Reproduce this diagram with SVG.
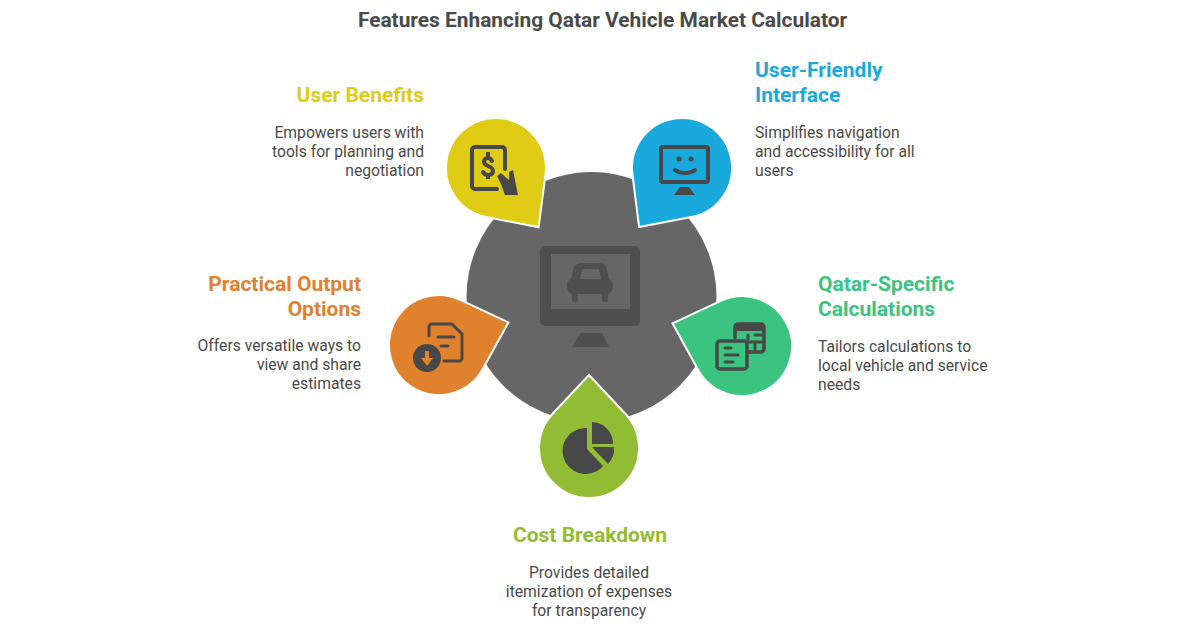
<svg xmlns="http://www.w3.org/2000/svg" width="1200" height="628" viewBox="0 0 1200 628">
<style>
text{font-family:Roboto,"Liberation Sans",sans-serif}
.title{font-size:20.900px;font-weight:700;fill:#4a4a4a;text-anchor:middle}
.h{font-size:21px;font-weight:700}
.d{font-size:15.700px;fill:#4a4a4a}
.s{fill:none;stroke:#484848;stroke-width:4;stroke-linecap:round;stroke-linejoin:round}
.f{fill:#484848}
.drop{stroke:#fff;stroke-width:2}
</style>
<defs><path id="drop" d="M0,-73 L36.400,-34.200 A50 50 0 1 1 -36.400,-34.200 Z"/></defs>
<rect width="1200" height="628" fill="#fff"/>
<text class="title" x="602.500" y="27">Features Enhancing Qatar Vehicle Market Calculator</text>
<g id="center">
<circle cx="591.500" cy="297" r="125" fill="#666"/>
<path fill="#4f4f4f" fill-rule="evenodd" d="M545,246H635a5,5 0 0 1 5,5V321a5,5 0 0 1-5,5H545a5,5 0 0 1-5-5V251a5,5 0 0 1 5-5ZM551,254V309H630V254Z"/>
<path fill="#4f4f4f" d="M581,333H602L609,347H572Z"/>
<path fill="#4f4f4f" fill-rule="evenodd" d="M581,263H600C604,263 606,266 607,270L609,279C612,280 613,283 613,286C613,290 611,293 608,294V300C608,303 602,303 602,300V294H578V300C578,303 572,303 572,300V294C569,293 567,290 567,286C567,283 568,280 571,279L573,270C574,266 577,263 581,263ZM582,269L580,279H601L599,269Z"/>
</g>
<g id="user-benefits">
<use href="#drop" class="drop" fill="#E0CB15" transform="translate(496 168) rotate(144.300)"/>
<path class="s" d="M497,189H475a3,3 0 0 1-3-3V150a3,3 0 0 1 3-3H502a3,3 0 0 1 3,3V169"/>
<path class="s" style="stroke-width:4" d="M492,161C490,157 484,157 484,162C484,167 493,165 493,171C493,176 485,176 483,172"/>
<path class="f" d="M486,152H490V157H486ZM486,175H490V179H486Z"/>
<path class="f" d="M497,176L501,173L509,180V172L513,170L518,195H505L501,184Z"/>
<text class="h" x="424" y="102" text-anchor="end" fill="#E0CB15">User Benefits</text>
<text class="d" text-anchor="end"><tspan x="424" y="138">Empowers users with</tspan><tspan x="424" y="157">tools for planning and</tspan><tspan x="424" y="176">negotiation</tspan></text>
</g>
<g id="user-friendly-interface">
<use href="#drop" class="drop" fill="#1AA9DD" transform="translate(682 168) rotate(-144)"/>
<rect class="s" x="661" y="147" width="47" height="35" rx="2"/>
<circle class="f" cx="679" cy="159" r="2.500"/><circle class="f" cx="691" cy="159" r="2.500"/>
<path class="s" d="M675,170C680,174 690,174 695,170"/>
<path class="f" d="M680,187H689L695,195H674Z"/>
<text class="h" fill="#1AA9DD"><tspan x="755" y="77">User-Friendly</tspan><tspan x="755" y="102">Interface</tspan></text>
<text class="d"><tspan x="755" y="138">Simplifies navigation</tspan><tspan x="755" y="157">and accessibility for all</tspan><tspan x="755" y="176">users</tspan></text>
</g>
<g id="practical-output-options">
<use href="#drop" class="drop" fill="#E0812E" transform="translate(439 345) rotate(72)"/>
<path class="s" style="stroke-width:3" d="M429,336V327a3,3 0 0 1 3-3H452L462,334V358a3,3 0 0 1-3,3H444"/>
<path class="s" style="stroke-width:3" d="M438,337H454M441,346H448"/>
<circle class="f" cx="427" cy="358" r="14"/>
<path fill="#E0812E" d="M425,351H429V358H433L427,366L421,358H425Z"/>
<text class="h" fill="#E0812E" text-anchor="end"><tspan x="361" y="291">Practical Output</tspan><tspan x="361" y="316">Options</tspan></text>
<text class="d" text-anchor="end"><tspan x="361" y="351">Offers versatile ways to</tspan><tspan x="361" y="370">view and share</tspan><tspan x="361" y="389">estimates</tspan></text>
</g>
<g id="qatar-specific-calculations">
<use href="#drop" class="drop" fill="#3BC47F" transform="translate(742 346) rotate(-72)"/>
<path class="s" style="stroke-width:3.500" d="M735,338V327a3,3 0 0 1 3-3H761a3,3 0 0 1 3,3V349a3,3 0 0 1-3,3H748"/>
<path class="f" d="M735,325H764V331H735Z"/>
<path class="s" style="stroke-width:3" d="M748,335V339M755,335H762M755,342V350M748,342H762"/>
<rect class="s" style="stroke-width:3.500" x="717" y="341" width="30" height="28" rx="3"/>
<path class="s" style="stroke-width:3" d="M725,348H731M725,355H738M725,362H733"/>
<text class="h" fill="#3BC47F"><tspan x="818" y="291">Qatar-Specific</tspan><tspan x="818" y="316">Calculations</tspan></text>
<text class="d"><tspan x="818" y="352">Tailors calculations to</tspan><tspan x="818" y="371">local vehicle and service</tspan><tspan x="818" y="390">needs</tspan></text>
</g>
<g id="cost-breakdown">
<use href="#drop" class="drop" fill="#92BC34" transform="translate(589 448)"/>
<path class="f" d="M587,428V449L603,466A23,23 0 1 1 587,428Z"/>
<path class="f" d="M592,422A21.500,21.500 0 0 1 613,444H592Z"/>
<path class="f" d="M592,447H614A22,22 0 0 1 608,464Z"/>
<text class="h" fill="#92BC34" x="590" y="542" text-anchor="middle">Cost Breakdown</text>
<text class="d" text-anchor="middle"><tspan x="589" y="578">Provides detailed</tspan><tspan x="589" y="597">itemization of expenses</tspan><tspan x="589" y="616">for transparency</tspan></text>
</g>
</svg>
